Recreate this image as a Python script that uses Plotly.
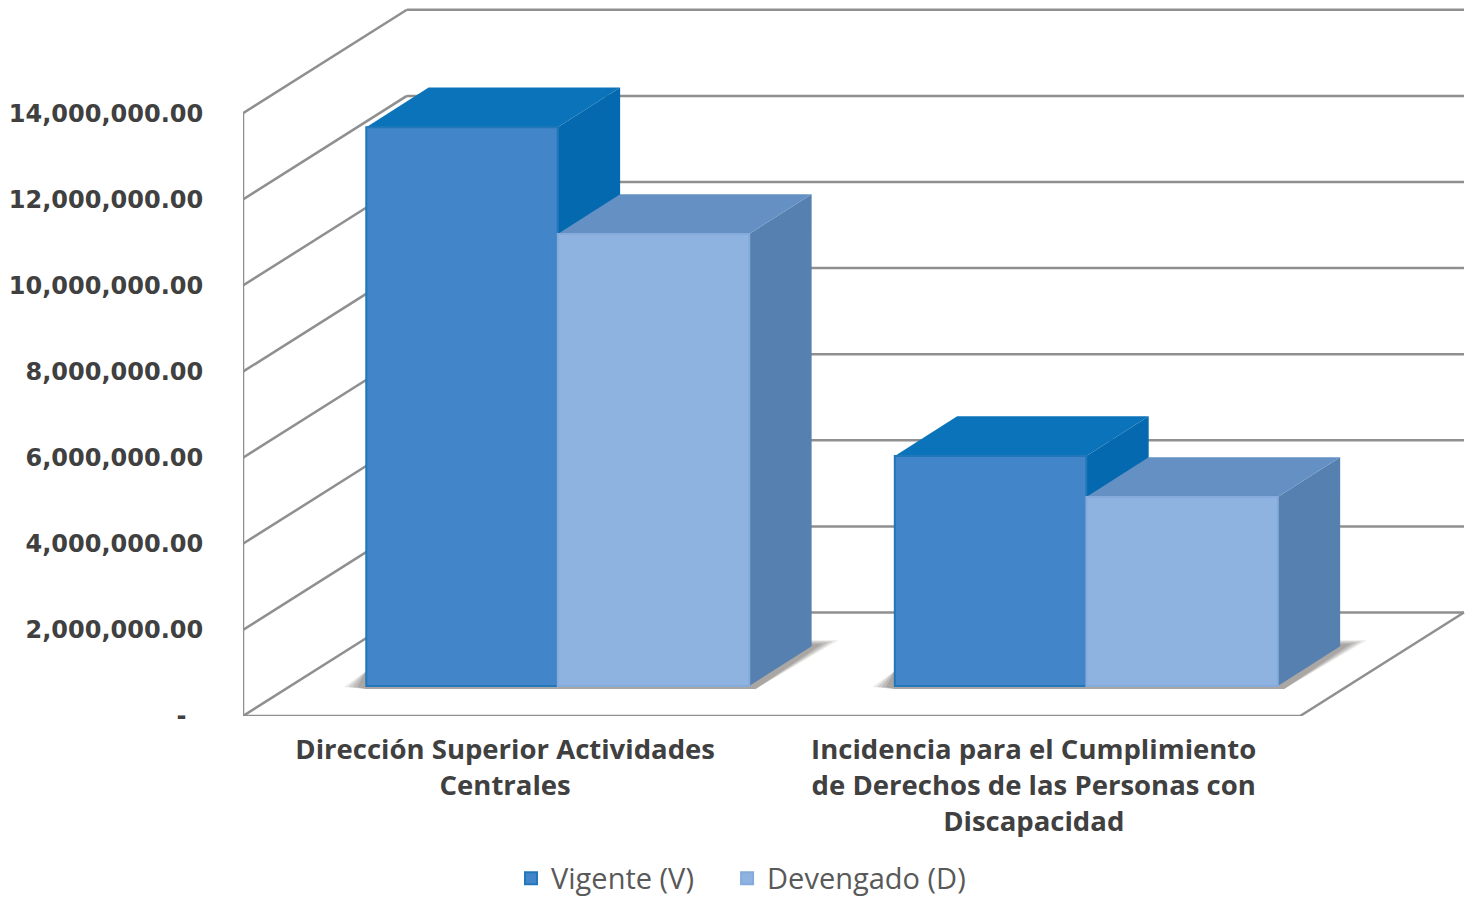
"""
3D-look clustered bars: Vigente vs Devengado per programme.
Fronts are real bar traces, sides/tops/walls are shapes built from the same values.
"""
import plotly.graph_objects as go

categories = ['Dirección Superior Actividades<br>Centrales',
              'Incidencia para el Cumplimiento<br>de Derechos de las Personas con<br>Discapacidad']
vigente    = [12980000, 5340000]
devengado  = [10500000, 4390000]
y_ticks    = [0, 2000000, 4000000, 6000000, 8000000, 10000000, 12000000, 14000000]
y_labels   = ['-\u00a0\u00a0', '2,000,000.00', '4,000,000.00', '6,000,000.00',
              '8,000,000.00', '10,000,000.00', '12,000,000.00', '14,000,000.00']

GRID = '#8f8f8f'
TEXT = '#404040'
V_FRONT, V_SIDE, V_TOP = '#4285c8', '#0469ae', '#0b73ba'
D_FRONT, D_SIDE, D_TOP = '#8fb3e0', '#5580b0', '#6590c4'

# projection of the chart box
WALL_DX, WALL_DY = 0.31, 2404000
BAR_DX, BAR_DY   = 0.118, 925000
BAR_W   = 0.3623
BAR_OFF = 0.0955
FLOOR   = 697000   # bars stand this far up the floor


def poly(pts):
    return 'M ' + ' L '.join(f'{x},{y}' for x, y in pts) + ' Z'


def fill(pts, col, opacity=1.0):
    return dict(type='path', path=poly(pts), xref='x', yref='y', layer='below',
                fillcolor=col, opacity=opacity, line=dict(width=0))


def seg(x0, y0, x1, y1):
    return dict(type='line', x0=x0, y0=y0, x1=x1, y1=y1, xref='x', yref='y',
                layer='below', line=dict(color=GRID, width=2.5))


shapes = []
xl, xr = -0.5, 1.5
for t in y_ticks[1:]:
    shapes.append(seg(xl, t, xl + WALL_DX, t + WALL_DY))
    shapes.append(seg(xl + WALL_DX, t + WALL_DY, xr + WALL_DX, t + WALL_DY))
# floor and front edge
shapes.append(seg(xl, 0, xr, 0))
shapes.append(seg(xr, 0, xr + WALL_DX, WALL_DY))
shapes.append(seg(xl, 0, xl + WALL_DX, WALL_DY))
shapes.append(seg(xl + WALL_DX, WALL_DY, xr + WALL_DX, WALL_DY))
shapes.append(seg(xl, 0, xl, y_ticks[-1]))

# shadows, several passes to soften the edge
for i in range(len(categories)):
    x0 = i + BAR_OFF - BAR_W
    x1 = i + BAR_OFF + BAR_W
    for grow, op in [(1.0, 0.15), (0.8, 0.2), (0.6, 0.2), (0.4, 0.25)]:
        shapes.append(fill([
            (x0 - 0.042 * grow, FLOOR - 25000),
            (x0, FLOOR + 350000),
            (x1 + BAR_DX, FLOOR + BAR_DY + 140000 * grow),
            (x1 + BAR_DX + 0.05 * grow, FLOOR + BAR_DY + 140000 * grow),
            (x1 + 0.012, FLOOR - 70000),
            (x0, FLOOR - 70000),
        ], '#6e6a64', op))

# sides and tops: left bar first so the right bar covers it
for i in range(len(categories)):
    c = i + BAR_OFF
    for x0, val, side, top in [(c - BAR_W, vigente[i], V_SIDE, V_TOP),
                               (c, devengado[i], D_SIDE, D_TOP)]:
        x1 = x0 + BAR_W
        y1 = FLOOR + val
        shapes.append(fill([(x1, FLOOR), (x1 + BAR_DX, FLOOR + BAR_DY),
                            (x1 + BAR_DX, y1 + BAR_DY), (x1, y1)], side))
        shapes.append(fill([(x0, y1), (x0 + BAR_DX, y1 + BAR_DY),
                            (x1 + BAR_DX, y1 + BAR_DY), (x1, y1)], top))

xpos = [i + BAR_OFF for i in range(len(categories))]
fig = go.Figure(data=[
    go.Bar(x=xpos, y=vigente, base=FLOOR, name='Vigente (V)', legend='legend', showlegend=True,
           marker=dict(color=V_FRONT, line=dict(color='#2277bb', width=2))),
    go.Bar(x=xpos, y=devengado, base=FLOOR, name='Devengado (D)', legend='legend2', showlegend=True,
           marker=dict(color=D_FRONT, line=dict(color='#85abdc', width=2))),
])

legend_style = dict(
    orientation='h', xref='container', yref='container',
    y=0.021, xanchor='left', yanchor='middle',
    font=dict(family='Open Sans', size=29, color='#595959'),
    bgcolor='rgba(0,0,0,0)', itemwidth=30,
)

fig.update_layout(
    template='none',
    width=1466, height=889,   # page body adds an 8px margin
    showlegend=True,
    barmode='group', bargap=1 - 2 * BAR_W, bargroupgap=0,
    paper_bgcolor='white', plot_bgcolor='white',
    margin=dict(l=235, r=0, t=0, b=181, pad=0, autoexpand=False),
    shapes=shapes,
    font=dict(family='Open Sans', color=TEXT),
    xaxis=dict(
        range=[-0.5, 1.829], showgrid=False, zeroline=False, showline=False,
        tickmode='array', tickvals=[i - 0.004 for i in range(len(categories))],
        ticktext=categories,
        tickfont=dict(family='Open Sans', size=27.5, weight='bold', color=TEXT),
        ticks='outside', ticklen=9, tickcolor='rgba(0,0,0,0)', tickangle=0,
        automargin=False,
    ),
    yaxis=dict(
        range=[0, 16446000], showgrid=False, zeroline=False, showline=False,
        tickmode='array', tickvals=y_ticks, ticktext=y_labels,
        tickfont=dict(family='DejaVu Sans', size=24, weight='bold', color=TEXT),
        ticks='outside', ticklen=34, tickcolor='rgba(0,0,0,0)',
        automargin=False,
    ),
    legend=dict(x=0.3431, **legend_style),
    legend2=dict(x=0.4905, **legend_style),
)

fig.write_html("out.html")
